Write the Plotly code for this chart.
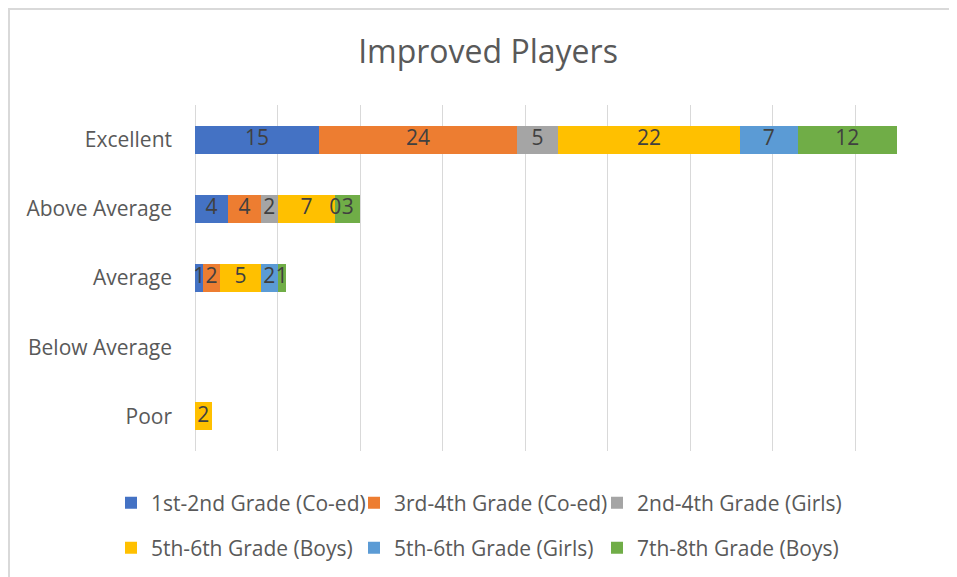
import plotly.graph_objects as go

categories = ["Excellent", "Above Average", "Average", "Below Average", "Poor"]
series_names = [
    "1st-2nd Grade (Co-ed)",
    "3rd-4th Grade (Co-ed)",
    "2nd-4th Grade (Girls)",
    "5th-6th Grade (Boys)",
    "5th-6th Grade (Girls)",
    "7th-8th Grade (Boys)",
]
s1 = [15, 4, 1, None, None]
s2 = [24, 4, 2, None, None]
s3 = [5, 2, None, None, None]
s4 = [22, 7, 5, None, 2]
s5 = [7, 0, 2, None, None]
s6 = [12, 3, 1, None, None]
series_values = [s1, s2, s3, s4, s5, s6]
colors = ["#4472C4", "#ED7D31", "#A5A5A5", "#FFC000", "#5B9BD5", "#70AD47"]

FONT = "Open Sans"
TXT = "#595959"
FS = 21

# page has an 8px body margin; figure is sized to fit the window
OFF = 8
W, H = 957 - OFF, 577 - OFF

fig = go.Figure()

# legend placement (page px): square centers and rows
col_x = [131, 374, 617]
row_y = [503, 548]

for i, (name, vals, col) in enumerate(zip(series_names, series_values, colors)):
    lg = "legend" if i == 0 else f"legend{i+1}"
    fig.add_trace(go.Bar(
        y=categories, x=vals, name=name, orientation="h",
        marker=dict(color=col, line=dict(width=0)),
        legend=lg, hoverinfo="x+name",
    ))

# data labels at centre of each segment
lx, ly, lt = [], [], []
for ci, cat in enumerate(categories):
    cum = 0
    for vals in series_values:
        v = vals[ci]
        if v is None:
            continue
        lx.append(cum + v / 2)
        ly.append(cat)
        lt.append(str(v))
        cum += v
fig.add_trace(go.Scatter(
    x=lx, y=ly, text=lt, mode="text", textposition="middle center",
    textfont=dict(family=FONT, size=FS, color="#404040"),
    showlegend=False, hoverinfo="skip", cliponaxis=False,
))

legends = {}
for i in range(6):
    key = "legend" if i == 0 else f"legend{i+1}"
    r, c = divmod(i, 3)
    legends[key] = dict(
        orientation="h", xref="container", yref="container",
        x=(col_x[c] - OFF - 20) / W, xanchor="left",
        y=1 - (row_y[r] - OFF) / H, yanchor="middle",
        font=dict(family=FONT, size=FS, color=TXT),
        bgcolor="rgba(0,0,0,0)", borderwidth=0,
    )

pl, pr, pt, pb = 195, 938, 105, 451  # plot area in page px
fig.update_layout(
    width=W, height=H,
    barmode="stack", bargap=0.595,
    plot_bgcolor="white", paper_bgcolor="white",
    margin=dict(l=pl - OFF, r=957 - pr, t=pt - OFF, b=577 - pb),
    title=dict(text="Improved Players", x=(488 - OFF) / W, xref="container", xanchor="center",
               y=1 - (52 - OFF) / H, yref="container", yanchor="middle",
               font=dict(family=FONT, size=32, color=TXT)),
    xaxis=dict(range=[0, 90], dtick=10, showgrid=True, gridcolor="#D9D9D9", gridwidth=1,
               zeroline=True, zerolinecolor="#D9D9D9", zerolinewidth=1,
               showticklabels=False, showline=False, fixedrange=True),
    yaxis=dict(autorange="reversed", showgrid=False, zeroline=False, showline=False,
               tickfont=dict(family=FONT, size=FS, color=TXT), ticklabelstandoff=22,
               fixedrange=True),
    showlegend=True,
    **legends,
    shapes=[dict(type="rect", xref="paper", yref="paper",
                 x0=(9 - pl) / (pr - pl), x1=(970 - pl) / (pr - pl),
                 y0=(pb - 590) / (pb - pt), y1=(pb - 9) / (pb - pt),
                 line=dict(color="#D9D9D9", width=2), fillcolor="rgba(0,0,0,0)",
                 layer="below")],
)

fig.write_html("out.html")
